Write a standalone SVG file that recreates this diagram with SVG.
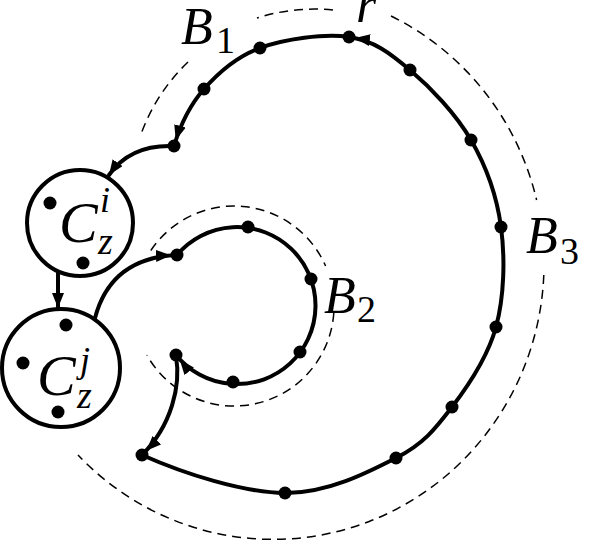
<svg xmlns="http://www.w3.org/2000/svg" width="599" height="544" viewBox="0 0 599 544">
  <style>
    .edge { fill: none; stroke: #000; stroke-width: 4; stroke-linecap: round; }
    .dash { fill: none; stroke: #000; stroke-width: 1.5; stroke-dasharray: 9 6; }
    .node { fill: #fff; stroke: #000; stroke-width: 4; }
    .dot { fill: #000; }
    .it { font-family: "Liberation Serif", "DejaVu Serif", serif; font-style: italic; fill: #000; }
    .rm { font-family: "Liberation Serif", "DejaVu Serif", serif; fill: #000; }
  </style>
  <defs>
    <marker id="arr" viewBox="0 0 15 12" refX="21" refY="6" markerWidth="15" markerHeight="12" markerUnits="userSpaceOnUse" orient="auto">
      <path d="M0,0 L15,6 L0,12 z" fill="#000"/>
    </marker>
    <marker id="arr0" viewBox="0 0 15 12" refX="15" refY="6" markerWidth="15" markerHeight="12" markerUnits="userSpaceOnUse" orient="auto">
      <path d="M0,0 L15,6 L0,12 z" fill="#000"/>
    </marker>
  </defs>

  <g id="boundaries">
    <path class="dash" d="M333,10 A189,189 0 0 0 257,18 M188,62 A189,189 0 0 0 140,137"/>
    <path class="dash" d="M391,16 A271,276 0 0 1 536.6,200 M543.8,275 A271,276 0 0 1 78,455"/>
    <path class="dash" d="M150.8,250.5 A100,100 0 0 1 325.6,266 M333.8,313 A100,100 0 0 1 146.9,355.1"/>
  </g>

  <g id="connectors">
    <path class="edge" marker-end="url(#arr)" d="M142,455 C185,474 242.7,492.5 285,493 C327.3,493.5 368.2,472.3 396,458 C423.8,443.7 435.3,428.8 452,407 C468.7,385.2 487.8,357 496,327 C504.2,297 505.2,258.2 501,227 C496.8,195.8 486.2,166.2 471,140 C455.8,113.8 430.3,87.2 410,70 C389.7,52.8 374,40.7 349,37"/>
    <path class="edge" marker-end="url(#arr)" d="M349,37 C324,33.3 284.2,39.3 260,48 C235.8,56.7 218.3,72.7 204,89 C189.7,105.3 180,126 174,146"/>
    <path class="edge" marker-end="url(#arr0)" d="M174,146 C150,145 125,152 109,175"/>
    <path class="edge" marker-end="url(#arr0)" d="M58,272 L58,308"/>
    <path class="edge" marker-end="url(#arr)" d="M95,318 C105,280 130,257 177,255"/>
    <path class="edge" marker-end="url(#arr)" d="M177,255 A78.5,78.5 0 1 1 176,355"/>
    <path class="edge" marker-end="url(#arr)" d="M176,356 C181,385 172,425 142,455"/>
  </g>

  <g id="node-Ci">
    <circle class="node" cx="80" cy="223" r="53"/>
    <circle class="dot" cx="50" cy="203" r="6.5"/>
    <circle class="dot" cx="83" cy="263" r="6.5"/>
    <text class="it" x="59" y="242" font-size="58">C</text>
    <text class="it" x="100" y="212" font-size="36">i</text>
    <text class="it" x="98" y="254" font-size="38">z</text>
  </g>

  <g id="node-Cj">
    <circle class="node" cx="61" cy="368" r="59"/>
    <circle class="dot" cx="66" cy="325" r="6.5"/>
    <circle class="dot" cx="23" cy="363" r="6.5"/>
    <circle class="dot" cx="58" cy="412" r="6.5"/>
    <text class="it" x="37" y="395" font-size="58">C</text>
    <text class="it" x="80" y="372" font-size="36">j</text>
    <text class="it" x="77" y="408" font-size="38">z</text>
  </g>

  <g id="points">
    <circle class="dot" cx="349" cy="37" r="6.5"/>
    <circle class="dot" cx="260" cy="48" r="6.5"/>
    <circle class="dot" cx="204" cy="89" r="6.5"/>
    <circle class="dot" cx="174" cy="146" r="6.5"/>
    <circle class="dot" cx="410" cy="70" r="6.5"/>
    <circle class="dot" cx="471" cy="140" r="6.5"/>
    <circle class="dot" cx="501" cy="227" r="6.5"/>
    <circle class="dot" cx="496" cy="327" r="6.5"/>
    <circle class="dot" cx="452" cy="407" r="6.5"/>
    <circle class="dot" cx="396" cy="458" r="6.5"/>
    <circle class="dot" cx="285" cy="493" r="6.5"/>
    <circle class="dot" cx="142" cy="455" r="6.5"/>
    <circle class="dot" cx="177" cy="255" r="6.5"/>
    <circle class="dot" cx="248" cy="227" r="6.5"/>
    <circle class="dot" cx="311" cy="279" r="6.5"/>
    <circle class="dot" cx="300" cy="352" r="6.5"/>
    <circle class="dot" cx="233" cy="382" r="6.5"/>
    <circle class="dot" cx="176" cy="355" r="6.5"/>
  </g>

  <g id="labels">
    <text class="it" x="356" y="22" font-size="52">r</text>
    <text class="it" x="181" y="44" font-size="52">B</text>
    <text class="rm" x="216" y="53" font-size="38">1</text>
    <text class="it" x="324" y="313" font-size="52">B</text>
    <text class="rm" x="357" y="322" font-size="38">2</text>
    <text class="it" x="526" y="253" font-size="52">B</text>
    <text class="rm" x="560" y="264" font-size="38">3</text>
  </g>
</svg>
